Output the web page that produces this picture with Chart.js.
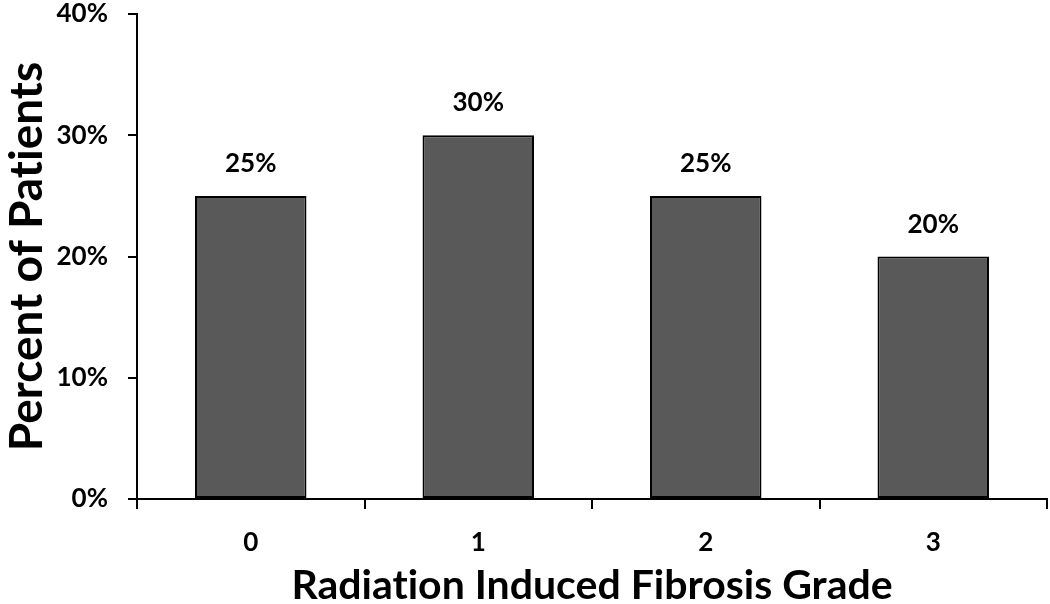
<!DOCTYPE html>
<html>
<head>
<meta charset="utf-8">
<script src="https://cdn.jsdelivr.net/npm/chart.js@4"></script>
<style>
  html, body { margin: 0; padding: 0; background: #fff; }
  #wrap { width: 1050px; height: 604px; position: relative; }
</style>
</head>
<body>
<div id="wrap"><canvas id="chart"></canvas></div>
<script>
// --- data ---
const grades = ['0', '1', '2', '3'];
const percentPatients = [25, 30, 25, 20];
const yTicks = [0, 10, 20, 30, 40];

const FONT = 'Lato, "Open Sans", sans-serif';
// zero-width non-joiner keeps Lato from joining "ti" into a ligature
const xTitle = 'Radiat\u200Cion Induced Fibrosis Grade';
const yTitle = 'Percent of Pat\u200Cients';

// labels above each bar
const barLabels = {
    id: 'barLabels',
    afterDatasetsDraw(chart) {
        const ctx = chart.ctx;
        const meta = chart.getDatasetMeta(0);
        ctx.save();
        ctx.fillStyle = '#000';
        ctx.font = 'bold 26px ' + FONT;
        ctx.textAlign = 'center';
        ctx.textBaseline = 'alphabetic';
        meta.data.forEach((bar, i) => {
            ctx.fillText(percentPatients[i] + '%', bar.x, bar.y - 24);
        });
        ctx.restore();
    }
};

const config = {
    type: 'bar',
    data: {
        labels: grades,
        datasets: [{
            data: percentPatients,
            backgroundColor: '#595959',
            borderColor: '#000',
            borderWidth: 2,
            borderSkipped: false,
            categoryPercentage: 0.49,
            barPercentage: 1.0
        }]
    },
    options: {
        responsive: true, maintainAspectRatio: false, animation: false,
        layout: { padding: { top: 14, right: 3, left: 0, bottom: 0 } },
        plugins: { legend: { display: false }, tooltip: { enabled: false } },
        scales: {
            x: {
                grid: { display: true, drawOnChartArea: false, drawTicks: true, tickLength: 10, color: '#000', lineWidth: 2, offset: true },
                border: { display: true, color: '#000', width: 2 },
                ticks: { color: '#000', font: { family: FONT, weight: 'bold', size: 26 }, padding: 18 },
                title: { display: true, text: xTitle, color: '#000',
                         font: { family: FONT, weight: 'bold', size: 41 }, padding: { top: 0, bottom: -6 } },
                afterFit(scale) { scale.height = 105; }
            },
            y: {
                min: 0, max: 40,
                afterBuildTicks(scale) { scale.ticks = yTicks.map(v => ({ value: v })); },
                grid: { display: true, drawOnChartArea: false, drawTicks: true, tickLength: 9, color: '#000', lineWidth: 2 },
                border: { display: true, color: '#000', width: 2 },
                ticks: { color: '#000', font: { family: FONT, weight: 'bold', size: 26 }, padding: 20,
                         callback: v => v + '%' },
                title: { display: true, text: yTitle, color: '#000',
                         font: { family: FONT, weight: 'bold', size: 46 }, padding: { top: 0, bottom: 0 } },
                afterFit(scale) { scale.width = 137; scale.paddingTop = 0; scale.paddingBottom = 0; }
            }
        }
    },
    plugins: [barLabels]
};

new Chart(document.getElementById('chart'), config);
</script>
</body>
</html>
